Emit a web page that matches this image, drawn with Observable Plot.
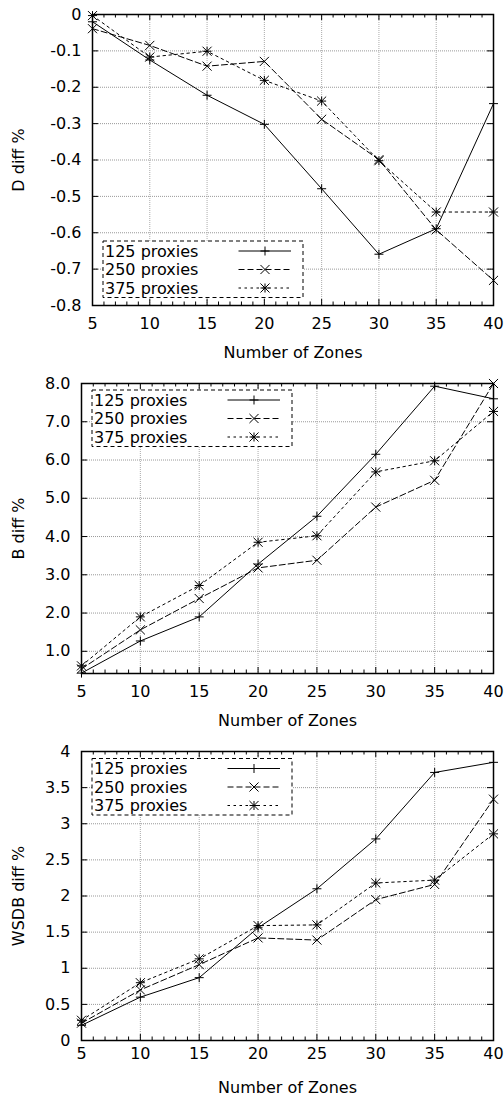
<!DOCTYPE html>
<html><head><meta charset="utf-8">
<script src="https://cdn.jsdelivr.net/npm/d3@7"></script>
<script src="https://cdn.jsdelivr.net/npm/@observablehq/plot@0.6"></script>
<style>body{margin:0;background:#fff} #chart svg{display:block}</style>
</head><body><div id="chart"></div>
<script>
// ---- data ----
const zones = [5, 10, 15, 20, 25, 30, 35, 40];
const seriesNames = ["125 proxies", "250 proxies", "375 proxies"];
const xTitle = "Number of Zones";

const dDiff125 = [-0.020, -0.125, -0.222, -0.302, -0.479, -0.659, -0.589, -0.245];
const dDiff250 = [-0.039, -0.085, -0.142, -0.129, -0.288, -0.399, -0.592, -0.731];
const dDiff375 = [-0.003, -0.117, -0.101, -0.181, -0.238, -0.402, -0.543, -0.543];

const bDiff125 = [0.43, 1.27, 1.90, 3.28, 4.53, 6.15, 7.93, 7.60];
const bDiff250 = [0.54, 1.56, 2.38, 3.18, 3.38, 4.77, 5.47, 8.00];
const bDiff375 = [0.62, 1.90, 2.72, 3.85, 4.02, 5.69, 5.98, 7.27];

const wDiff125 = [0.21, 0.60, 0.87, 1.56, 2.10, 2.79, 3.71, 3.85];
const wDiff250 = [0.24, 0.70, 1.05, 1.42, 1.39, 1.95, 2.16, 3.34];
const wDiff375 = [0.28, 0.80, 1.13, 1.59, 1.60, 2.18, 2.22, 2.86];

const xTicks = [5, 10, 15, 20, 25, 30, 35, 40];
const dTicks = [0, -0.1, -0.2, -0.3, -0.4, -0.5, -0.6, -0.7, -0.8];
const bTicks = [1, 2, 3, 4, 5, 6, 7, 8];
const wTicks = [0, 0.5, 1, 1.5, 2, 2.5, 3, 3.5, 4];

// ---- styles ----
const seriesStyle = [
  {dash: null, syms: ["plus"]},
  {dash: "6,3", syms: ["times"]},
  {dash: "2.5,3.5", syms: ["plus", "times"]}
];
const symR = {plus: 3.0, times: 4.2};
const xMinor = d3.range(5, 41).filter(v => v % 5 !== 0);
const W = 504;

function panel({values, yDomain, yTicks, yFormat, yLabel, height, mt, mb, ml, mr, xPad, legendX, legendY}) {
  const pw = W - ml - mr, ph = height - mt - mb;
  const data = [];
  seriesNames.forEach((s, i) => zones.forEach((z, j) => data.push({series: s, zone: z, value: values[i][j]})));
  const marks = [
    Plot.ruleY(yTicks, {y: d => d, stroke: "#999", strokeDasharray: "1,1"}),
    Plot.ruleX(xTicks, {x: d => d, stroke: "#aaa", strokeDasharray: "1,1"}),
    Plot.tickY(yTicks, {y: d => d, insetRight: pw - 6, stroke: "black"}),
    Plot.tickY(yTicks, {y: d => d, insetLeft: pw - 6, stroke: "black"}),
    Plot.tickX(xTicks, {x: d => d, insetTop: ph - 6, stroke: "black"}),
    Plot.tickX(xTicks, {x: d => d, insetBottom: ph - 6, stroke: "black"}),
    Plot.tickX(xMinor, {x: d => d, insetTop: ph - 3.5, stroke: "black"}),
    Plot.tickX(xMinor, {x: d => d, insetBottom: ph - 3.5, stroke: "black"})
  ];
  seriesStyle.forEach((st, i) => {
    const sd = data.filter(d => d.series === seriesNames[i]);
    marks.push(Plot.line(sd, {x: "zone", y: "value", stroke: "black", strokeWidth: 1, strokeDasharray: st.dash}));
    st.syms.forEach(sy => marks.push(Plot.dot(sd, {x: "zone", y: "value", symbol: sy, r: symR[sy], stroke: "black", strokeWidth: 1})));
  });
  marks.push(Plot.frame({stroke: "black", strokeWidth: 1.5}));
  marks.push(Plot.text([yLabel], {text: d => d, frameAnchor: "left", dx: 18 - ml, rotate: -90, fontSize: 16, textAnchor: "middle", lineAnchor: "middle", fill: "black"}));
  marks.push(Plot.text([xTitle], {text: d => d, frameAnchor: "bottom", dy: 47, fontSize: 16, lineAnchor: "middle", fill: "black"}));

  const svg = Plot.plot({
    width: W, height, marginTop: mt, marginBottom: mb, marginLeft: ml, marginRight: mr,
    style: {fontFamily: "DejaVu Sans", fontSize: "16px", background: "white", color: "black", overflow: "visible"},
    x: {domain: [5, 40], ticks: xTicks, tickSize: 0, tickPadding: xPad, label: null, tickFormat: d => String(d)},
    y: {domain: yDomain, ticks: yTicks, tickSize: 0, tickPadding: 11, tickFormat: yFormat, label: null},
    marks
  });

  // legend (opaque box inside plot area)
  const g = d3.select(svg).append("g")
    .attr("transform", `translate(${ml + legendX},${mt + legendY})`)
    .attr("font-family", "DejaVu Sans").attr("font-size", 16).attr("text-anchor", "start");
  g.append("rect").attr("width", 200).attr("height", 56.5)
    .attr("fill", "white").attr("stroke", "black").attr("stroke-dasharray", "4,3");
  seriesNames.forEach((s, i) => {
    const y = 10 + i * 18.5;
    g.append("text").attr("x", 2).attr("y", y).attr("dy", "0.36em")
      .attr("text-anchor", "start").attr("fill", "black").text(s);
    g.append("line").attr("x1", 135.5).attr("x2", 188).attr("y1", y).attr("y2", y)
      .attr("stroke", "black").attr("stroke-dasharray", seriesStyle[i].dash);
    seriesStyle[i].syms.forEach(sy => {
      const r = symR[sy];
      const type = sy === "plus" ? d3.symbolPlus : d3.symbolTimes;
      g.append("path").attr("transform", `translate(162,${y})`)
        .attr("d", d3.symbol(type, Math.PI * r * r)())
        .attr("fill", "none").attr("stroke", "black");
    });
  });
  return svg;
}

const root = document.getElementById("chart");
root.appendChild(panel({
  values: [dDiff125, dDiff250, dDiff375], yDomain: [-0.8, 0], yTicks: dTicks,
  yFormat: d => d === 0 ? "0" : d.toFixed(1), yLabel: "D diff %",
  height: 365, mt: 14, mb: 60, ml: 92, mr: 11, xPad: 12, legendX: 11, legendY: 227
}));
root.appendChild(panel({
  values: [bDiff125, bDiff250, bDiff375], yDomain: [0.42, 8], yTicks: bTicks,
  yFormat: d => d.toFixed(1), yLabel: "B diff %",
  height: 365, mt: 18, mb: 57, ml: 81, mr: 11, xPad: 12, legendX: 11, legendY: 7
}));
root.appendChild(panel({
  values: [wDiff125, wDiff250, wDiff375], yDomain: [0, 4], yTicks: wTicks,
  yFormat: d => String(d), yLabel: "WSDB diff %",
  height: 367, mt: 21, mb: 57, ml: 81, mr: 11, xPad: 7, legendX: 11, legendY: 7.5
}));
</script>
</body></html>
